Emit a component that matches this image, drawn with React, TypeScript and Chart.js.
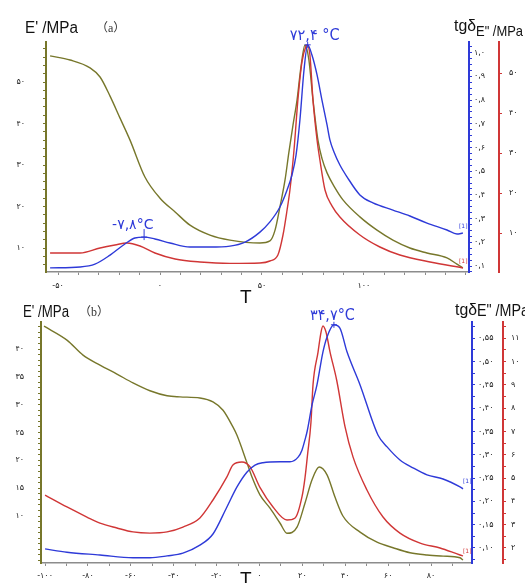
import React, { useEffect, useRef } from "react";
import { Chart, registerables } from "chart.js";

Chart.register(...registerables);

const OLIVE = "#77772b";
const BLUE = "#2e3ad8";
const RED = "#d03636";
const AXIS_GRAY = "#8c8c8c";
const TEXT = "#222";
const TICK_FONT = "'DejaVu Sans', 'Liberation Sans', sans-serif";
const HEAD_FONT = "'Liberation Sans', Arial, sans-serif";

// ---------- Panel (a) data ----------
const aStorageTemp = [-53.9, -44.1, -34.3, -29.4, -24.5, -19.6, -14.7, -7.4, 0, 7.4, 14.7, 24.5, 34.3, 49, 53.9, 56.4, 58.8, 61.3, 63.2, 65.2, 67.2, 69.1, 71.1, 73.0, 75.0, 77.5, 79.4, 81.9, 85.8, 89.7, 98, 106.4, 114.2, 122.5, 130.9, 140.7, 145.6, 148.5];
const aStorageMod = [56.3, 55.3, 53.4, 51.2, 46.6, 41.3, 36.0, 27.1, 22.0, 18.7, 15.5, 13.1, 11.9, 11.2, 11.7, 14.3, 19.9, 26.4, 33.1, 39.6, 45.7, 53.6, 58.9, 55.3, 45.7, 35.8, 31.6, 28.1, 24.5, 21.6, 17.5, 14.3, 11.9, 10.0, 8.8, 7.6, 6.1, 5.2];

const aLossTemp = [-53.9, -39.2, -29.4, -22.1, -16.2, -9.8, -2.5, 7.4, 19.6, 34.3, 49, 53.9, 57.8, 60.3, 62.3, 63.7, 65.7, 67.6, 69.6, 71.6, 72.1, 73.5, 75.0, 77.0, 78.4, 80.9, 84.3, 88.2, 98, 107.8, 117.6, 132.4, 148.5];
const aLossMod = [5.0, 5.0, 6.25, 7.0, 7.5, 6.75, 5.0, 3.5, 2.75, 2.4, 2.5, 3.0, 4.5, 9.5, 15.75, 20.75, 30.75, 43.25, 52.75, 56.75, 57.0, 54.5, 43.25, 33.25, 28.25, 20.75, 16.8, 14.0, 9.5, 6.5, 4.5, 2.75, 1.25];

const aTanTemp = [-53.9, -39.2, -31.9, -24.5, -17.2, -12.3, -7.8, -2.5, 4.9, 14.7, 24.5, 34.3, 41.7, 49, 53.9, 58.8, 62.3, 64.7, 66.7, 68.6, 70.6, 72.4, 74.5, 77, 79.4, 81.9, 83.3, 85.3, 88.2, 91.7, 98, 104.4, 114.2, 122.5, 130.9, 140.7, 145.6, 148.5];
const aTanDelta = [0.092, 0.096, 0.108, 0.146, 0.193, 0.218, 0.222, 0.214, 0.197, 0.180, 0.180, 0.184, 0.201, 0.243, 0.286, 0.349, 0.421, 0.484, 0.568, 0.716, 0.927, 1.033, 0.99, 0.906, 0.80, 0.695, 0.632, 0.581, 0.526, 0.476, 0.40, 0.366, 0.336, 0.311, 0.281, 0.252, 0.235, 0.239];

const aTempTicks = [-50, 0, 50, 100];
const aStorageTicks = [10, 20, 30, 40, 50];
const aTanTicks = [0.1, 0.2, 0.3, 0.4, 0.5, 0.6, 0.7, 0.8, 0.9, 1.0];
const aLossTicks = [10, 20, 30, 40, 50];
const aPeakMain = { temp: 72.4, value: 1.033 };
const aPeakLow = { temp: -7.8, value: 0.222 };

// ---------- Panel (b) data ----------
const bStorageTemp = [-100.5, -89.8, -82.3, -74.4, -66.5, -59.0, -51.1, -43.1, -37.1, -27.8, -21.7, -17.0, -12.4, -10.5, -5.8, -3.5, 0.2, 4.9, 9.6, 12.8, 17.5, 21.2, 24.5, 27.8, 31.5, 35.2, 38.9, 46.9, 54.8, 62.3, 70.2, 78.1, 85.6, 93.5, 94.9];
const bStorageMod = [44.1, 41.6, 38.9, 37.1, 35.5, 33.9, 32.5, 31.6, 31.4, 31.2, 30.5, 29.0, 26.0, 24.5, 19.5, 17.0, 13.8, 11.4, 8.7, 6.9, 8.0, 12.3, 16.5, 18.8, 17.4, 13.4, 10.0, 7.1, 5.3, 4.3, 3.4, 3.0, 2.8, 2.5, 2.1];

const bLossTemp = [-100.0, -89.8, -80.5, -74.4, -66.5, -59.0, -51.1, -43.1, -35.7, -27.8, -21.7, -15.2, -12.4, -8.2, -4.4, 0.2, 6.3, 12.8, 16.6, 19.8, 21.2, 22.4, 24.0, 24.95, 27.3, 28.7, 29.6, 31.0, 32.9, 36.0, 39.9, 43.6, 50.1, 57.6, 65.5, 74.9, 84.2, 93.5, 94.9];
const bLossMod = [4.27, 3.76, 3.33, 3.07, 2.86, 2.69, 2.64, 2.69, 2.90, 3.29, 4.06, 5.05, 5.56, 5.69, 5.48, 4.6, 3.76, 3.20, 3.29, 4.19, 5.0, 6.0, 7.4, 9.0, 10.41, 11.27, 11.53, 11.27, 10.41, 9.2, 7.2, 5.91, 4.49, 3.33, 2.64, 2.21, 2.0, 1.70, 1.66];

const bTanTemp = [-100, -89.8, -74.4, -59.0, -51.1, -43.1, -35.7, -27.8, -21.7, -15.2, -10.5, -5.8, -2.1, 1.6, 9.6, 14.2, 18.0, 19.8, 21.2, 22.2, 24.5, 26.8, 29.6, 31.5, 34.7, 37.5, 40.8, 46.9, 55.3, 59.5, 65.5, 71.6, 78.1, 85.6, 93.5, 94.9];
const bTanDelta = [0.098, 0.091, 0.085, 0.079, 0.079, 0.083, 0.089, 0.106, 0.130, 0.188, 0.231, 0.263, 0.278, 0.283, 0.285, 0.285, 0.295, 0.310, 0.332, 0.350, 0.407, 0.450, 0.521, 0.553, 0.579, 0.572, 0.521, 0.450, 0.342, 0.317, 0.289, 0.272, 0.257, 0.248, 0.231, 0.227];

const bTempTicks = [-100, -80, -60, -40, -20, 0, 20, 40, 60, 80];
const bStorageTicks = [10, 15, 20, 25, 30, 35, 40];
const bTanTicks = [0.1, 0.15, 0.2, 0.25, 0.3, 0.35, 0.4, 0.45, 0.5, 0.55];
const bLossTicks = [2, 3, 4, 5, 6, 7, 8, 9, 10, 11];
const bPeak = { temp: 34.7, value: 0.579 };

// ---------- helpers ----------
const FA_DIGITS = "۰۱۲۳۴۵۶۷۸۹";
const fa = (s: string) => s.replace(/[0-9]/g, (d) => FA_DIGITS[Number(d)]).replace(".", ",");

const pts = (xs: number[], ys: number[]) => xs.map((x, i) => ({ x, y: ys[i] }));

function tickValues(min: number, max: number, step: number) {
  const out: number[] = [];
  for (let i = Math.ceil(min / step - 1e-9); i * step <= max + 1e-9; i++) {
    out.push(Number((i * step).toFixed(6)));
  }
  return out;
}

const isMajor = (majors: number[], v: number) => majors.some((m) => Math.abs(m - v) < 1e-6);

type ScaleCfg = {
  position: "left" | "right" | "bottom";
  color: string;
  min: number;
  max: number;
  majors: number[];
  step: number;
  size: number;
  pad: number;
  tickLen: number;
  fmt: (v: number) => string;
  weight?: number;
  borderWidth?: number;
  labelColor?: string;
};

function makeScale(c: ScaleCfg) {
  const vals = tickValues(c.min, c.max, c.step);
  const horizontal = c.position === "bottom";
  return {
    type: "linear",
    position: c.position,
    min: c.min,
    max: c.max,
    weight: c.weight ?? 0,
    border: { display: true, color: c.color, width: c.borderWidth ?? 2 },
    grid: {
      drawOnChartArea: false,
      drawTicks: true,
      tickLength: c.tickLen,
      tickColor: c.color,
      tickWidth: 1,
    },
    ticks: {
      autoSkip: false,
      maxRotation: 0,
      minRotation: 0,
      padding: c.pad,
      color: c.labelColor ?? TEXT,
      font: { family: TICK_FONT, size: 8 },
      callback: (v: number) => (isMajor(c.majors, v) ? c.fmt(v) : ""),
    },
    afterBuildTicks: (s: any) => {
      s.ticks = vals.map((value) => ({ value }));
    },
    afterFit: (s: any) => {
      if (horizontal) s.height = c.size;
      else s.width = c.size;
    },
  };
}

function lineSet(data: { x: number; y: number }[], color: string, axis: string) {
  return {
    data,
    yAxisID: axis,
    borderColor: color,
    backgroundColor: color,
    borderWidth: 1.4,
    pointRadius: 0,
    fill: false,
    cubicInterpolationMode: "monotone",
  };
}

type Note = { text: string; x: number; y: number; font: string; color: string; maxWidth?: number };
type Marker = { axis: string; temp: number; value: number; color: string; stem: number; label: string; dx: number; dy: number; font: string; maxWidth: number };

function overlay(notes: Note[], markers: Marker[]) {
  return {
    id: "overlay",
    afterDraw(chart: any) {
      const ctx = chart.ctx as CanvasRenderingContext2D;
      ctx.save();
      ctx.textBaseline = "alphabetic";
      ctx.textAlign = "left";
      for (const m of markers) {
        const px = chart.scales.x.getPixelForValue(m.temp);
        const py = chart.scales[m.axis].getPixelForValue(m.value);
        ctx.strokeStyle = m.color;
        ctx.lineWidth = 1;
        ctx.beginPath();
        ctx.moveTo(px - 3, py);
        ctx.lineTo(px + 3, py);
        ctx.moveTo(px, py + 3);
        ctx.lineTo(px, py - 3 - m.stem);
        ctx.stroke();
        ctx.fillStyle = m.color;
        ctx.font = m.font;
        ctx.fillText(m.label, px + m.dx, py + m.dy, m.maxWidth);
      }
      for (const n of notes) {
        ctx.fillStyle = n.color;
        ctx.font = n.font;
        if (n.maxWidth) ctx.fillText(n.text, n.x, n.y, n.maxWidth);
        else ctx.fillText(n.text, n.x, n.y);
      }
      ctx.restore();
    },
  };
}

function baseOptions(topPad: number, scales: any) {
  return {
    responsive: false,
    maintainAspectRatio: false,
    animation: false,
    events: [],
    layout: { padding: { top: topPad, left: 0, right: 0, bottom: 0 } },
    plugins: { legend: { display: false }, tooltip: { enabled: false } },
    scales,
  };
}

export default function App() {
  const refA = useRef<HTMLCanvasElement>(null);
  const refB = useRef<HTMLCanvasElement>(null);

  useEffect(() => {
    if (!refA.current || !refB.current) return;

    const chartA = new Chart(refA.current, {
      type: "line",
      data: {
        datasets: [
          lineSet(pts(aTanTemp, aTanDelta), BLUE, "yT"),
          lineSet(pts(aLossTemp, aLossMod), RED, "yL"),
          lineSet(pts(aStorageTemp, aStorageMod), OLIVE, "yE"),
        ] as any,
      },
      options: baseOptions(42, {
        x: makeScale({ position: "bottom", color: AXIS_GRAY, min: -55.9, max: 151.5, majors: aTempTicks, step: 10, size: 33, pad: 6, tickLen: 3, fmt: (v) => fa(String(v)), borderWidth: 1.5 }),
        yE: makeScale({ position: "left", color: OLIVE, min: 4.22, max: 59.64, majors: aStorageTicks, step: 2, size: 46, pad: 18, tickLen: 3, fmt: (v) => fa(String(v)) }),
        yT: makeScale({ position: "right", color: BLUE, min: 0.0747, max: 1.045, majors: aTanTicks, step: 0.025, size: 30, pad: 2, tickLen: 3, fmt: (v) => fa(v.toFixed(1)), weight: 1 }),
        yL: makeScale({ position: "right", color: RED, min: 0.25, max: 57.75, majors: aLossTicks, step: 10, size: 26, pad: 7, tickLen: 3, fmt: (v) => fa(String(v)), weight: 2 }),
      }) as any,
      plugins: [
        overlay(
          [
            { text: "E' /MPa", x: 25, y: 33, font: `16px ${HEAD_FONT}`, color: "#111", maxWidth: 53 },
            { text: "（a）", x: 96, y: 32, font: "12px 'Liberation Serif', 'Noto Sans CJK SC', serif", color: "#333" },
            { text: "tgδ", x: 454, y: 31, font: `16px ${HEAD_FONT}`, color: "#111", maxWidth: 22 },
            { text: 'E" /MPa', x: 476, y: 36, font: `15px ${HEAD_FONT}`, color: "#111", maxWidth: 47 },
            { text: "T", x: 240, y: 303, font: `19px ${HEAD_FONT}`, color: "#111" },
            { text: "[1]", x: 459, y: 228, font: `6px ${TICK_FONT}`, color: BLUE },
            { text: "[1]", x: 459, y: 263, font: `6px ${TICK_FONT}`, color: RED },
          ],
          [
            { axis: "yT", temp: aPeakMain.temp, value: aPeakMain.value, color: BLUE, stem: 0, label: fa(String(aPeakMain.temp)) + " °C", dx: -18, dy: -5, font: `15px ${TICK_FONT}`, maxWidth: 50 },
            { axis: "yT", temp: aPeakLow.temp, value: aPeakLow.value, color: BLUE, stem: 5, label: fa(String(aPeakLow.temp)) + "°C", dx: -32, dy: -8, font: `14px ${TICK_FONT}`, maxWidth: 42 },
          ]
        ),
      ],
    });

    const chartB = new Chart(refB.current, {
      type: "line",
      data: {
        datasets: [
          lineSet(pts(bTanTemp, bTanDelta), BLUE, "yT"),
          lineSet(pts(bLossTemp, bLossMod), RED, "yL"),
          lineSet(pts(bStorageTemp, bStorageMod), OLIVE, "yE"),
        ] as any,
      },
      options: baseOptions(32, {
        x: makeScale({ position: "bottom", color: AXIS_GRAY, min: -101.9, max: 99.1, majors: bTempTicks, step: 10, size: 20, pad: 5, tickLen: 3, fmt: (v) => fa(String(v)), borderWidth: 1.5 }),
        yE: makeScale({ position: "left", color: OLIVE, min: 1.56, max: 44.85, majors: bStorageTicks, step: 1, size: 41, pad: 14, tickLen: 3, fmt: (v) => fa(String(v)) }),
        yT: makeScale({ position: "right", color: BLUE, min: 0.0678, max: 0.585, majors: bTanTicks, step: 0.025, size: 31, pad: 3, tickLen: 3, fmt: (v) => fa(v.toFixed(2)), weight: 1 }),
        yL: makeScale({ position: "right", color: RED, min: 1.356, max: 11.7, majors: bLossTicks, step: 0.5, size: 22, pad: 5, tickLen: 3, fmt: (v) => fa(String(v)), weight: 2 }),
      }) as any,
      plugins: [
        overlay(
          [
            { text: "E' /MPa", x: 23, y: 27, font: `16px ${HEAD_FONT}`, color: "#111", maxWidth: 46 },
            { text: "（b）", x: 79, y: 26, font: "12px 'Liberation Serif', 'Noto Sans CJK SC', serif", color: "#333" },
            { text: "tgδ", x: 455, y: 25, font: `16px ${HEAD_FONT}`, color: "#111", maxWidth: 22 },
            { text: 'E" /MPa', x: 477, y: 26, font: `16px ${HEAD_FONT}`, color: "#111", maxWidth: 52 },
            { text: "T", x: 240, y: 295, font: `19px ${HEAD_FONT}`, color: "#111" },
            { text: "[1]", x: 463, y: 193, font: `6px ${TICK_FONT}`, color: BLUE },
            { text: "[1]", x: 463, y: 263, font: `6px ${TICK_FONT}`, color: RED },
          ],
          [
            { axis: "yT", temp: bPeak.temp, value: bPeak.value, color: BLUE, stem: 0, label: fa(String(bPeak.temp)) + "°C", dx: -24, dy: -5, font: `15px ${TICK_FONT}`, maxWidth: 45 },
          ]
        ),
      ],
    });

    return () => {
      chartA.destroy();
      chartB.destroy();
    };
  }, []);

  return (
    <div style={{ position: "fixed", left: 0, top: 0, width: 525, height: 583, background: "#fff", overflow: "hidden" }}>
      <canvas ref={refA} width={525} height={305} style={{ position: "absolute", left: 0, top: 0, width: 525, height: 305 }} />
      <canvas ref={refB} width={525} height={293} style={{ position: "absolute", left: 0, top: 290, width: 525, height: 293 }} />
    </div>
  );
}
